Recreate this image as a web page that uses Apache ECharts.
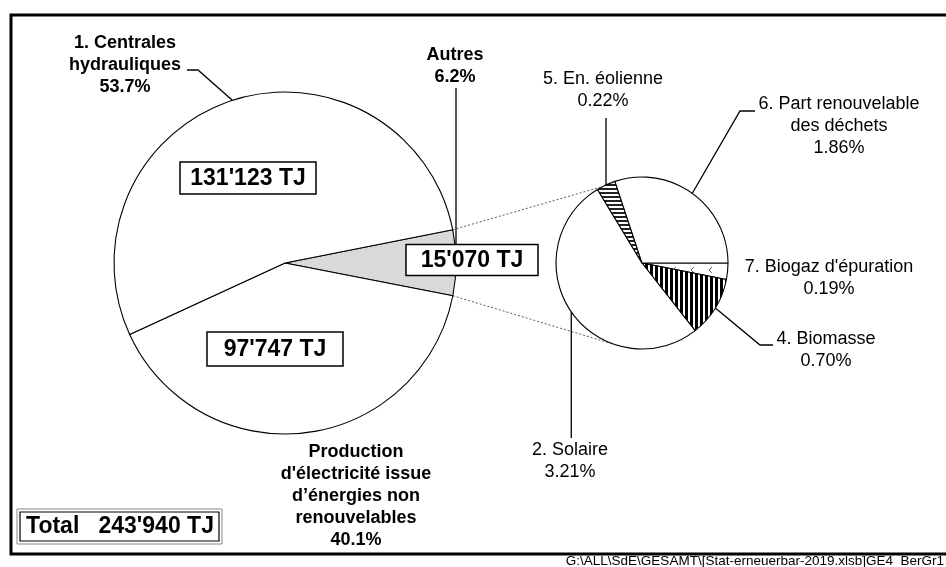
<!DOCTYPE html>
<html>
<head>
<meta charset="utf-8">
<script src="https://cdn.jsdelivr.net/npm/echarts@6/dist/echarts.min.js"></script>
<style>
  html, body { margin: 0; padding: 0; background: #fff; }
  #main { width: 946px; height: 567px; }
</style>
</head>
<body>
<div id="main"></div>
<script>
// main pie, values in TJ (Autres / non renouvelable / hydraulique)
const mainNames = ['Autres', "Production d'électricité issue d’énergies non renouvelables", 'Centrales hydrauliques'];
const mainValues = [15070, 97747, 131123];
const mainPct = ['6.2%', '40.1%', '53.7%'];
const mainBoxes = ["15'070 TJ", "97'747 TJ", "131'123 TJ"];
const totalLabel = "Total   243'940 TJ";

// sub pie, share of total in %
const subNames = ["7. Biogaz d'épuration", '4. Biomasse', '2. Solaire', '5. En. éolienne', '6. Part renouvelable\ndes déchets'];
const subValues = [0.19, 0.70, 3.21, 0.22, 1.86];
const subPct = ['0.19%', '0.70%', '3.21%', '0.22%', '1.86%'];

const footer = 'G:\\ALL\\SdE\\GESAMT\\[Stat-erneuerbar-2019.xlsb]GE4_BerGr1';

const FONT = '"Liberation Sans", Arial, sans-serif';
const MAIN_C = [285, 263], MAIN_R = 171, MAIN_START = 11.2;
const SUB_C = [642, 263], SUB_R = 86, SUB_START = 0;

function tile(w, h, draw) {
    const c = document.createElement('canvas');
    c.width = w; c.height = h;
    const g = c.getContext('2d');
    g.fillStyle = '#fff';
    g.fillRect(0, 0, w, h);
    draw(g);
    return { image: c, repeat: 'repeat' };
}
const hStripes = tile(4, 4, g => { g.fillStyle = '#222'; g.fillRect(0, 0, 4, 2); });
const vStripes = tile(5, 5, g => { g.fillStyle = '#000'; g.fillRect(0, 0, 3, 5); });
const dots = tile(18, 12, g => {
    g.strokeStyle = '#666'; g.lineWidth = 1;
    g.beginPath(); g.moveTo(10, 3); g.lineTo(7, 6); g.lineTo(10, 9); g.stroke();
});

const mainColors = ['#d9d9d9', '#fff', '#fff'];
const subColors = [dots, vStripes, '#fff', hStripes, '#fff'];

function polar(c, r, deg) {
    const a = deg * Math.PI / 180;
    return [c[0] + r * Math.cos(a), c[1] - r * Math.sin(a)];
}
// mid angle of each slice (clockwise from start)
function midAngles(values, start) {
    const sum = values.reduce((a, b) => a + b, 0);
    let acc = start;
    return values.map(v => {
        const span = v / sum * 360;
        const mid = acc - span / 2;
        acc -= span;
        return mid;
    });
}
const mainMid = midAngles(mainValues, MAIN_START);
const subMid = midAngles(subValues, SUB_START);
const autresSpan = mainValues[0] / mainValues.reduce((a, b) => a + b, 0) * 360;

function text(x, y, str, bold, size, align) {
    return {
        type: 'text', x: x, y: y, z: 10,
        style: {
            text: str, fill: '#000', align: align || 'center', verticalAlign: 'top',
            font: (bold ? 'bold ' : '') + (size || 18) + 'px ' + FONT, lineHeight: 22
        }
    };
}
function line(points, width, dash) {
    return {
        type: 'polyline', z: 5, silent: true,
        shape: { points: points },
        style: { stroke: dash ? '#333' : '#000', lineWidth: width || 1.3, lineDash: dash || null, fill: null }
    };
}
function box(cx, cy, w, h, str) {
    return [
        { type: 'rect', z: 8, shape: { x: cx - w / 2, y: cy - h / 2, width: w, height: h },
          style: { fill: '#fff', stroke: '#000', lineWidth: 1.5 } },
        { type: 'text', z: 9, x: cx, y: cy + 1,
          style: { text: str, fill: '#000', align: 'center', verticalAlign: 'middle', font: 'bold 23px ' + FONT } }
    ];
}

const aHydro = polar(MAIN_C, MAIN_R, mainMid[2]);
const aAutres = polar(MAIN_C, MAIN_R, mainMid[0]);
const aWind = polar(SUB_C, SUB_R, subMid[3]);
const aWaste = polar(SUB_C, SUB_R, subMid[4]);
const aBio = polar(SUB_C, SUB_R, subMid[1]);
const aSolar = polar(SUB_C, SUB_R, subMid[2]);

const graphics = [
    // frame
    { type: 'rect', z: 1, shape: { x: 11, y: 15, width: 960, height: 539 },
      style: { fill: null, stroke: '#000', lineWidth: 3 } },
    // connectors main -> sub pie
    line([polar(MAIN_C, MAIN_R, MAIN_START), polar(SUB_C, SUB_R, 117)], 0.8, [2, 2]),
    line([polar(MAIN_C, MAIN_R, MAIN_START - autresSpan), polar(SUB_C, SUB_R, 252)], 0.8, [2, 2]),
    // leader lines
    line([aHydro, [198, 70], [187, 70]]),
    line([[aAutres[0], 88], [aAutres[0], 246]]),
    line([aWind, [aWind[0], 118]]),
    line([aWaste, [740, 111], [755, 111]]),
    line([aBio, [760, 345], [773, 345]]),
    line([aSolar, [aSolar[0], 438]]),
    // labels
    text(125, 32, '1. Centrales\nhydrauliques\n' + mainPct[2], true),
    text(455, 44, mainNames[0] + '\n' + mainPct[0], true),
    text(356, 441, "Production\nd'électricité issue\nd’énergies non\nrenouvelables\n" + mainPct[1], true),
    text(603, 68, subNames[3] + '\n' + subPct[3], false),
    text(839, 93, subNames[4] + '\n' + subPct[4], false),
    text(829, 256, subNames[0] + '\n' + subPct[0], false),
    text(826, 328, subNames[1] + '\n' + subPct[1], false),
    text(570, 439, subNames[2] + '\n' + subPct[2], false),
    ...box(248, 178, 136, 32, mainBoxes[2]),
    ...box(472, 260, 132, 31, mainBoxes[0]),
    ...box(275, 349, 136, 34, mainBoxes[1]),
    // total box with double border
    { type: 'rect', z: 8, shape: { x: 17, y: 509, width: 205, height: 35 },
      style: { fill: '#fff', stroke: '#888', lineWidth: 1 } },
    { type: 'rect', z: 8, shape: { x: 20, y: 512, width: 199, height: 29 },
      style: { fill: '#fff', stroke: '#000', lineWidth: 1.2 } },
    { type: 'text', z: 9, x: 120, y: 527,
      style: { text: totalLabel, fill: '#000', align: 'center', verticalAlign: 'middle', font: 'bold 23px ' + FONT } },
    // file path footer
    { type: 'text', z: 9, x: 944, y: 554,
      style: { text: footer, fill: '#000', align: 'right', verticalAlign: 'top', font: '13.5px ' + FONT } }
];

const pieBase = {
    type: 'pie', clockwise: true, silent: true, avoidLabelOverlap: false,
    label: { show: false }, labelLine: { show: false }, emphasis: { disabled: true },
    itemStyle: { borderColor: '#000', borderWidth: 1.1 }
};

const option = {
    animation: false,
    backgroundColor: '#fff',
    series: [
        Object.assign({}, pieBase, {
            center: MAIN_C, radius: MAIN_R, startAngle: MAIN_START,
            data: mainValues.map((v, i) => ({ value: v, name: mainNames[i], itemStyle: { color: mainColors[i] } }))
        }),
        Object.assign({}, pieBase, {
            center: SUB_C, radius: SUB_R, startAngle: SUB_START,
            data: subValues.map((v, i) => ({ value: v, name: subNames[i], itemStyle: { color: subColors[i] } }))
        })
    ],
    graphic: graphics
};

const chart = echarts.init(document.getElementById('main'));
chart.setOption(option);
</script>
</body>
</html>
